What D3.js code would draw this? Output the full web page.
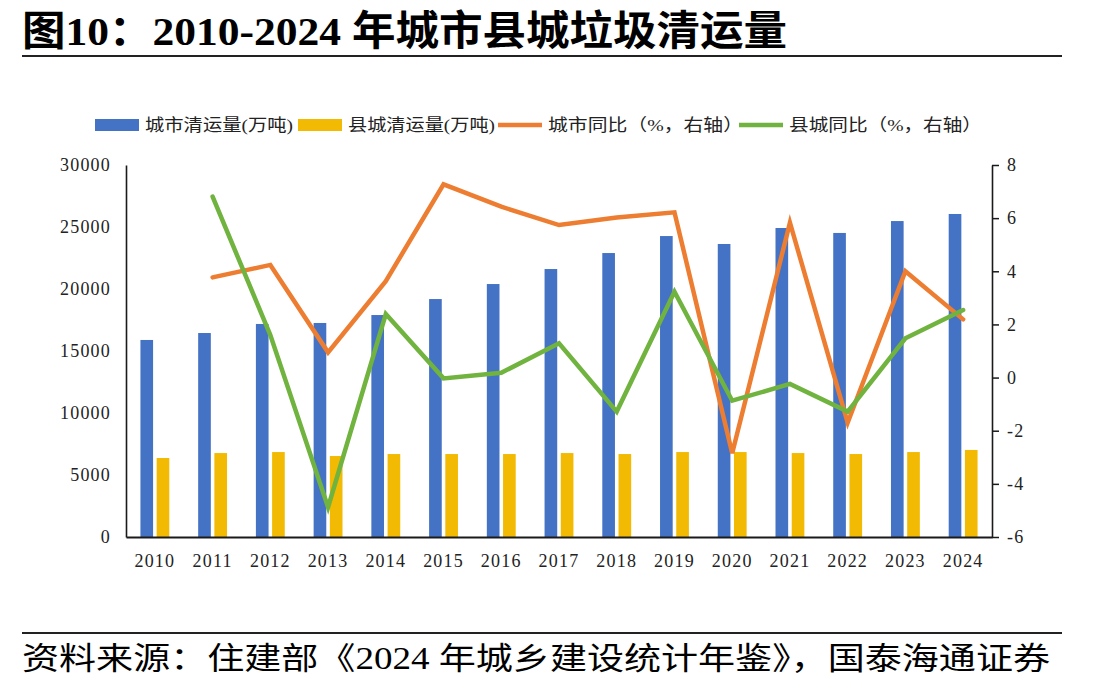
<!DOCTYPE html>
<html>
<head>
<meta charset="utf-8">
<script src="https://cdn.jsdelivr.net/npm/d3@7"></script>
<style>
  body { margin: 0; background: #fff; }
  svg { display: block; }
</style>
</head>
<body>
<div id="chart"></div>
<script>
// data
const years = ["2010", "2011", "2012", "2013", "2014", "2015", "2016", "2017",
               "2018", "2019", "2020", "2021", "2022", "2023", "2024"];
const cityVolume   = [15890, 16450, 17180, 17260, 17900, 19190, 20400, 21610,
                      22900, 24270, 23630, 24920, 24520, 25480, 26050];
const countyVolume = [6370, 6770, 6850, 6530, 6690, 6690, 6690, 6770,
                      6690, 6850, 6850, 6770, 6690, 6850, 7020];
const cityYoY   = [null, 3.77, 4.24, 0.95, 3.63, 7.27, 6.43, 5.74,
                   6.02, 6.22, -2.85, 5.83, -1.70, 4.00, 2.19];
const countyYoY = [null, 6.81, 1.60, -4.88, 2.39, -0.03, 0.18, 1.29,
                   -1.28, 3.23, -0.87, -0.24, -1.28, 1.48, 2.54];
const leftTicks  = [0, 5000, 10000, 15000, 20000, 25000, 30000];
const rightTicks = [-6, -4, -2, 0, 2, 4, 6, 8];
const legendLabels = ["城市清运量(万吨)", "县城清运量(万吨)", "城市同比（%，右轴）", "县城同比（%，右轴）"];

const W = 1107, H = 693;
const plot = { left: 126, right: 992, top: 165, bottom: 537 };
const colors = { city: "#4472C4", county: "#F2BA02", cityYoY: "#ED7D31", countyYoY: "#70B33F" };
const serif = "'Liberation Serif', 'Times New Roman', 'Noto Sans CJK SC', serif";
const cjk = "'Liberation Serif', 'Noto Sans CJK SC', sans-serif";

const svg = d3.select("#chart").append("svg")
    .attr("width", W)
    .attr("height", H);

// title + rules
svg.append("text")
    .attr("x", 22).attr("y", 45)
    .attr("textLength", 765).attr("lengthAdjust", "spacingAndGlyphs")
    .style("font-family", cjk).style("font-size", "41px").style("font-weight", "bold")
    .style("fill", "#000")
    .text("图10：2010-2024 年城市县城垃圾清运量");

svg.append("line")
    .attr("x1", 22).attr("x2", 1062).attr("y1", 56).attr("y2", 56)
    .style("stroke", "#222").style("stroke-width", 2);

svg.append("line")
    .attr("x1", 22).attr("x2", 1062).attr("y1", 633).attr("y2", 633)
    .style("stroke", "#222").style("stroke-width", 2);

svg.append("text")
    .attr("x", 22).attr("y", 669)
    .attr("textLength", 1028).attr("lengthAdjust", "spacingAndGlyphs")
    .style("font-family", cjk).style("font-size", "31px")
    .style("fill", "#000")
    .text("资料来源：住建部《2024 年城乡建设统计年鉴》，国泰海通证券");

// scales
const x0 = d3.scaleBand()
    .domain(years)
    .range([plot.left, plot.right])
    .paddingInner(0.5)
    .paddingOuter(0.25);

const x1 = d3.scaleBand()
    .domain(["city", "county"])
    .range([0, x0.bandwidth()])
    .paddingInner(0.22);

const yL = d3.scaleLinear().domain([0, 30000]).range([plot.bottom, plot.top]);
const yR = d3.scaleLinear().domain([-6, 8]).range([plot.bottom, plot.top]);

// bars
const rows = years.map((y, i) => ({ year: y, city: cityVolume[i], county: countyVolume[i] }));

const groups = svg.append("g").selectAll("g")
    .data(rows)
    .enter()
    .append("g")
    .attr("transform", (d) => `translate(${x0(d.year)},0)`);

groups.selectAll("rect")
    .data((d) => ["city", "county"].map((k) => ({ key: k, value: d[k] })))
    .enter()
    .append("rect")
    .attr("x", (d) => x1(d.key))
    .attr("width", x1.bandwidth())
    .attr("y", (d) => yL(d.value))
    .attr("height", (d) => yL(0) - yL(d.value))
    .style("fill", (d) => colors[d.key]);

// axes
const axisLeft = svg.append("g")
    .attr("transform", `translate(${plot.left},0)`)
    .call(d3.axisLeft(yL).tickValues(leftTicks).tickSize(0).tickPadding(15).tickFormat((d) => String(d)));

const axisRight = svg.append("g")
    .attr("transform", `translate(${plot.right},0)`)
    .call(d3.axisRight(yR).tickValues(rightTicks).tickSizeInner(7).tickSizeOuter(0).tickPadding(8).tickFormat((d) => String(d)));

const axisBottom = svg.append("g")
    .attr("transform", `translate(0,${plot.bottom})`)
    .call(d3.axisBottom(x0).tickSize(0).tickPadding(17));

[axisLeft, axisRight, axisBottom].forEach((a) => {
    a.selectAll("text")
        .style("font-family", serif)
        .style("font-size", "18px")
        .style("letter-spacing", "1.2px")
        .style("fill", "#222");
    a.select(".domain").style("stroke", "#1a1a1a").style("stroke-width", 1.6);
    a.selectAll(".tick line").style("stroke", "#1a1a1a").style("stroke-width", 1.5);
});
axisBottom.select(".domain").style("stroke-width", 2.2);

// yoy lines on the right axis
const line = d3.line()
    .defined((d) => d.v != null)
    .x((d) => x0(d.year) + x0.bandwidth() / 2)
    .y((d) => yR(d.v));

[["cityYoY", cityYoY], ["countyYoY", countyYoY]].forEach(([key, vals]) => {
    svg.append("path")
        .datum(years.map((y, i) => ({ year: y, v: vals[i] })))
        .attr("d", line)
        .style("fill", "none")
        .style("stroke", colors[key])
        .style("stroke-width", 4.5)
        .style("stroke-linecap", "round");
});

// legend
const legendItems = [
    { label: legendLabels[0], color: colors.city, type: "rect", len: 148, after: 5 },
    { label: legendLabels[1], color: colors.county, type: "rect", len: 147, after: 3 },
    { label: legendLabels[2], color: colors.cityYoY, type: "line", len: 195, after: -4 },
    { label: legendLabels[3], color: colors.countyYoY, type: "line", len: 193, after: 0 }
];

const legend = svg.append("g");
let lx = 95;
const ly = 125, swW = 44;
legendItems.forEach((d) => {
    if (d.type === "rect") {
        legend.append("rect")
            .attr("x", lx).attr("y", ly - 6).attr("width", swW).attr("height", 12)
            .style("fill", d.color);
    } else {
        legend.append("line")
            .attr("x1", lx).attr("x2", lx + swW).attr("y1", ly).attr("y2", ly)
            .style("stroke", d.color).style("stroke-width", 4.5);
    }
    legend.append("text")
        .attr("x", lx + swW + 6).attr("y", ly)
        .attr("dy", "0.36em")
        .attr("textLength", d.len).attr("lengthAdjust", "spacingAndGlyphs")
        .style("font-family", cjk).style("font-size", "17px").style("fill", "#222")
        .text(d.label);
    lx += swW + 6 + d.len + d.after;
});
</script>
</body>
</html>
